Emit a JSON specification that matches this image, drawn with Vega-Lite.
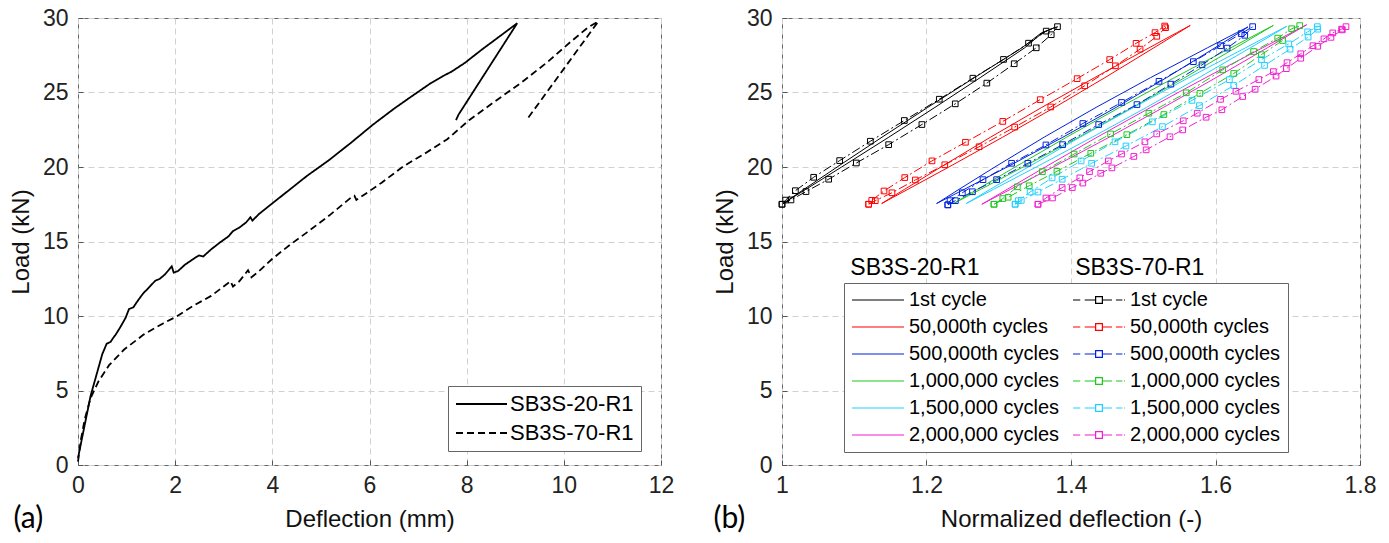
{
  "$schema": "https://vega.github.io/schema/vega-lite/v6.json",
  "padding": {"left": 8, "top": 6, "right": 0, "bottom": 0},
  "background": "white",
  "spacing": 37,
  "config": {
    "font": "Liberation Sans",
    "view": {"stroke": "#666", "strokeWidth": 1},
    "axis": {
      "labelFont": "Liberation Sans", "labelFontSize": 23, "labelColor": "#222",
      "titleFont": "Liberation Sans", "titleFontSize": 24, "titleFontWeight": "normal", "titleColor": "#111",
      "grid": true, "gridDash": [6, 4], "gridColor": "#d0d0d0", "gridWidth": 1,
      "domain": false, "ticks": true, "tickSize": -5, "tickColor": "#555", "tickWidth": 1,
      "labelFlush": false, "labelPadding": 14, "titlePadding": 10
    },
    "axisY": {"labelPadding": 15, "titlePadding": 9}
  },
  "datasets": {
    "a": [
      {"s":"SB3S-20-R1","i":0,"d":0,"L":0.47},{"s":"SB3S-20-R1","i":1,"d":0.13,"L":2.56},{"s":"SB3S-20-R1","i":2,"d":0.26,"L":4.65},{"s":"SB3S-20-R1","i":3,"d":0.4,"L":6.28},{"s":"SB3S-20-R1","i":4,"d":0.5,"L":7.44},{"s":"SB3S-20-R1","i":5,"d":0.59,"L":8.14},{"s":"SB3S-20-R1","i":6,"d":0.67,"L":8.26},{"s":"SB3S-20-R1","i":7,"d":0.74,"L":8.6},{"s":"SB3S-20-R1","i":8,"d":0.77,"L":8.72},{"s":"SB3S-20-R1","i":9,"d":0.86,"L":9.19},{"s":"SB3S-20-R1","i":10,"d":0.98,"L":9.88},{"s":"SB3S-20-R1","i":11,"d":1.05,"L":10.47},{"s":"SB3S-20-R1","i":12,"d":1.14,"L":10.58},{"s":"SB3S-20-R1","i":13,"d":1.21,"L":10.93},{"s":"SB3S-20-R1","i":14,"d":1.34,"L":11.51},{"s":"SB3S-20-R1","i":15,"d":1.48,"L":11.98},{"s":"SB3S-20-R1","i":16,"d":1.59,"L":12.37},{"s":"SB3S-20-R1","i":17,"d":1.68,"L":12.49},{"s":"SB3S-20-R1","i":18,"d":1.79,"L":12.79},{"s":"SB3S-20-R1","i":19,"d":1.88,"L":13.14},{"s":"SB3S-20-R1","i":20,"d":1.93,"L":13.33},{"s":"SB3S-20-R1","i":21,"d":1.97,"L":12.91},{"s":"SB3S-20-R1","i":22,"d":2.06,"L":13.02},{"s":"SB3S-20-R1","i":23,"d":2.2,"L":13.44},{"s":"SB3S-20-R1","i":24,"d":2.38,"L":13.84},{"s":"SB3S-20-R1","i":25,"d":2.49,"L":14.07},{"s":"SB3S-20-R1","i":26,"d":2.58,"L":14.0},{"s":"SB3S-20-R1","i":27,"d":2.74,"L":14.47},{"s":"SB3S-20-R1","i":28,"d":2.92,"L":14.93},{"s":"SB3S-20-R1","i":29,"d":3.1,"L":15.35},{"s":"SB3S-20-R1","i":30,"d":3.19,"L":15.7},{"s":"SB3S-20-R1","i":31,"d":3.32,"L":15.93},{"s":"SB3S-20-R1","i":32,"d":3.46,"L":16.28},{"s":"SB3S-20-R1","i":33,"d":3.55,"L":16.63},{"s":"SB3S-20-R1","i":34,"d":3.59,"L":16.4},{"s":"SB3S-20-R1","i":35,"d":3.73,"L":16.86},{"s":"SB3S-20-R1","i":36,"d":4.0,"L":17.56},{"s":"SB3S-20-R1","i":37,"d":4.36,"L":18.49},{"s":"SB3S-20-R1","i":38,"d":4.72,"L":19.42},{"s":"SB3S-20-R1","i":39,"d":5.17,"L":20.47},{"s":"SB3S-20-R1","i":40,"d":5.62,"L":21.63},{"s":"SB3S-20-R1","i":41,"d":6.07,"L":22.84},{"s":"SB3S-20-R1","i":42,"d":6.52,"L":23.95},{"s":"SB3S-20-R1","i":43,"d":6.88,"L":24.77},{"s":"SB3S-20-R1","i":44,"d":7.24,"L":25.58},{"s":"SB3S-20-R1","i":45,"d":7.51,"L":26.1},{"s":"SB3S-20-R1","i":46,"d":7.69,"L":26.4},{"s":"SB3S-20-R1","i":47,"d":7.96,"L":26.98},{"s":"SB3S-20-R1","i":48,"d":8.32,"L":27.9},{"s":"SB3S-20-R1","i":49,"d":8.68,"L":28.77},{"s":"SB3S-20-R1","i":50,"d":9.04,"L":29.65},{"s":"SB3S-20-R1","i":51,"d":7.83,"L":23.5},{"s":"SB3S-20-R1","i":52,"d":7.78,"L":23.14},
      {"s":"SB3S-70-R1","i":0,"d":0,"L":0.23},{"s":"SB3S-70-R1","i":1,"d":0.06,"L":1.7},{"s":"SB3S-70-R1","i":2,"d":0.14,"L":3.1},{"s":"SB3S-70-R1","i":3,"d":0.26,"L":4.5},{"s":"SB3S-70-R1","i":4,"d":0.42,"L":5.6},{"s":"SB3S-70-R1","i":5,"d":0.64,"L":6.7},{"s":"SB3S-70-R1","i":6,"d":0.95,"L":7.75},{"s":"SB3S-70-R1","i":7,"d":1.35,"L":8.75},{"s":"SB3S-70-R1","i":8,"d":1.75,"L":9.5},{"s":"SB3S-70-R1","i":9,"d":2.02,"L":9.95},{"s":"SB3S-70-R1","i":10,"d":2.38,"L":10.7},{"s":"SB3S-70-R1","i":11,"d":2.74,"L":11.35},{"s":"SB3S-70-R1","i":12,"d":3.14,"L":12.33},{"s":"SB3S-70-R1","i":13,"d":3.19,"L":11.98},{"s":"SB3S-70-R1","i":14,"d":3.32,"L":12.33},{"s":"SB3S-70-R1","i":15,"d":3.5,"L":13.07},{"s":"SB3S-70-R1","i":16,"d":3.57,"L":12.6},{"s":"SB3S-70-R1","i":17,"d":3.73,"L":13.02},{"s":"SB3S-70-R1","i":18,"d":4.0,"L":13.84},{"s":"SB3S-70-R1","i":19,"d":4.36,"L":14.77},{"s":"SB3S-70-R1","i":20,"d":4.72,"L":15.63},{"s":"SB3S-70-R1","i":21,"d":5.17,"L":16.74},{"s":"SB3S-70-R1","i":22,"d":5.62,"L":17.95},{"s":"SB3S-70-R1","i":23,"d":5.69,"L":18.07},{"s":"SB3S-70-R1","i":24,"d":5.73,"L":17.79},{"s":"SB3S-70-R1","i":25,"d":5.89,"L":18.14},{"s":"SB3S-70-R1","i":26,"d":6.25,"L":18.95},{"s":"SB3S-70-R1","i":27,"d":6.7,"L":20.05},{"s":"SB3S-70-R1","i":28,"d":7.15,"L":20.93},{"s":"SB3S-70-R1","i":29,"d":7.6,"L":21.86},{"s":"SB3S-70-R1","i":30,"d":8.05,"L":23.14},{"s":"SB3S-70-R1","i":31,"d":8.59,"L":24.42},{"s":"SB3S-70-R1","i":32,"d":9.14,"L":25.7},{"s":"SB3S-70-R1","i":33,"d":9.68,"L":27.09},{"s":"SB3S-70-R1","i":34,"d":10.13,"L":28.37},{"s":"SB3S-70-R1","i":35,"d":10.49,"L":29.35},{"s":"SB3S-70-R1","i":36,"d":10.71,"L":29.77},{"s":"SB3S-70-R1","i":37,"d":9.23,"L":23.14}
    ],
    "solid": [
      {"s":"20:1st cycle","i":0,"x":1.003,"y":17.6},{"s":"20:1st cycle","i":1,"x":1.033,"y":18.5},{"s":"20:1st cycle","i":2,"x":1.0825,"y":20},{"s":"20:1st cycle","i":3,"x":1.1478,"y":22},{"s":"20:1st cycle","i":4,"x":1.2117,"y":24},{"s":"20:1st cycle","i":5,"x":1.2744,"y":26},{"s":"20:1st cycle","i":6,"x":1.3359,"y":28},{"s":"20:1st cycle","i":7,"x":1.3603,"y":29},{"s":"20:1st cycle","i":8,"x":1.377,"y":29.35},{"s":"20:1st cycle","i":9,"x":1.3589,"y":29},{"s":"20:1st cycle","i":10,"x":1.3321,"y":28},{"s":"20:1st cycle","i":11,"x":1.2664,"y":26},{"s":"20:1st cycle","i":12,"x":1.2017,"y":24},{"s":"20:1st cycle","i":13,"x":1.1384,"y":22},{"s":"20:1st cycle","i":14,"x":1.0763,"y":20},{"s":"20:1st cycle","i":15,"x":1.0304,"y":18.5},{"s":"20:1st cycle","i":16,"x":1.003,"y":17.6},
      {"s":"20:50,000th cycles","i":0,"x":1.138,"y":17.55},{"s":"20:50,000th cycles","i":1,"x":1.1742,"y":18.5},{"s":"20:50,000th cycles","i":2,"x":1.231,"y":20},{"s":"20:50,000th cycles","i":3,"x":1.3054,"y":22},{"s":"20:50,000th cycles","i":4,"x":1.3774,"y":24},{"s":"20:50,000th cycles","i":5,"x":1.447,"y":26},{"s":"20:50,000th cycles","i":6,"x":1.5147,"y":28},{"s":"20:50,000th cycles","i":7,"x":1.5483,"y":29},{"s":"20:50,000th cycles","i":8,"x":1.565,"y":29.5},{"s":"20:50,000th cycles","i":9,"x":1.5459,"y":29},{"s":"20:50,000th cycles","i":10,"x":1.5081,"y":28},{"s":"20:50,000th cycles","i":11,"x":1.4328,"y":26},{"s":"20:50,000th cycles","i":12,"x":1.3596,"y":24},{"s":"20:50,000th cycles","i":13,"x":1.2886,"y":22},{"s":"20:50,000th cycles","i":14,"x":1.22,"y":20},{"s":"20:50,000th cycles","i":15,"x":1.1696,"y":18.5},{"s":"20:50,000th cycles","i":16,"x":1.138,"y":17.55},
      {"s":"20:500,000th cycles","i":0,"x":1.214,"y":17.55},{"s":"20:500,000th cycles","i":1,"x":1.2522,"y":18.5},{"s":"20:500,000th cycles","i":2,"x":1.3116,"y":20},{"s":"20:500,000th cycles","i":3,"x":1.3888,"y":22},{"s":"20:500,000th cycles","i":4,"x":1.4625,"y":24},{"s":"20:500,000th cycles","i":5,"x":1.5324,"y":26},{"s":"20:500,000th cycles","i":6,"x":1.5992,"y":28},{"s":"20:500,000th cycles","i":7,"x":1.6322,"y":29},{"s":"20:500,000th cycles","i":8,"x":1.645,"y":29.4},{"s":"20:500,000th cycles","i":9,"x":1.6286,"y":29},{"s":"20:500,000th cycles","i":10,"x":1.5888,"y":28},{"s":"20:500,000th cycles","i":11,"x":1.5102,"y":26},{"s":"20:500,000th cycles","i":12,"x":1.4347,"y":24},{"s":"20:500,000th cycles","i":13,"x":1.3628,"y":22},{"s":"20:500,000th cycles","i":14,"x":1.2946,"y":20},{"s":"20:500,000th cycles","i":15,"x":1.245,"y":18.5},{"s":"20:500,000th cycles","i":16,"x":1.214,"y":17.55},
      {"s":"20:1,000,000 cycles","i":0,"x":1.2375,"y":17.55},{"s":"20:1,000,000 cycles","i":1,"x":1.275,"y":18.5},{"s":"20:1,000,000 cycles","i":2,"x":1.3337,"y":20},{"s":"20:1,000,000 cycles","i":3,"x":1.4107,"y":22},{"s":"20:1,000,000 cycles","i":4,"x":1.4852,"y":24},{"s":"20:1,000,000 cycles","i":5,"x":1.5575,"y":26},{"s":"20:1,000,000 cycles","i":6,"x":1.6278,"y":28},{"s":"20:1,000,000 cycles","i":7,"x":1.6627,"y":29},{"s":"20:1,000,000 cycles","i":8,"x":1.68,"y":29.5},{"s":"20:1,000,000 cycles","i":9,"x":1.6603,"y":29},{"s":"20:1,000,000 cycles","i":10,"x":1.6212,"y":28},{"s":"20:1,000,000 cycles","i":11,"x":1.5433,"y":26},{"s":"20:1,000,000 cycles","i":12,"x":1.4674,"y":24},{"s":"20:1,000,000 cycles","i":13,"x":1.3939,"y":22},{"s":"20:1,000,000 cycles","i":14,"x":1.3227,"y":20},{"s":"20:1,000,000 cycles","i":15,"x":1.2704,"y":18.5},{"s":"20:1,000,000 cycles","i":16,"x":1.2375,"y":17.55},
      {"s":"20:1,500,000 cycles","i":0,"x":1.255,"y":17.55},{"s":"20:1,500,000 cycles","i":1,"x":1.2927,"y":18.5},{"s":"20:1,500,000 cycles","i":2,"x":1.3519,"y":20},{"s":"20:1,500,000 cycles","i":3,"x":1.4294,"y":22},{"s":"20:1,500,000 cycles","i":4,"x":1.5045,"y":24},{"s":"20:1,500,000 cycles","i":5,"x":1.5773,"y":26},{"s":"20:1,500,000 cycles","i":6,"x":1.6481,"y":28},{"s":"20:1,500,000 cycles","i":7,"x":1.6833,"y":29},{"s":"20:1,500,000 cycles","i":8,"x":1.6985,"y":29.44},{"s":"20:1,500,000 cycles","i":9,"x":1.6809,"y":29},{"s":"20:1,500,000 cycles","i":10,"x":1.6415,"y":28},{"s":"20:1,500,000 cycles","i":11,"x":1.5631,"y":26},{"s":"20:1,500,000 cycles","i":12,"x":1.4867,"y":24},{"s":"20:1,500,000 cycles","i":13,"x":1.4126,"y":22},{"s":"20:1,500,000 cycles","i":14,"x":1.3409,"y":20},{"s":"20:1,500,000 cycles","i":15,"x":1.2881,"y":18.5},{"s":"20:1,500,000 cycles","i":16,"x":1.255,"y":17.55},
      {"s":"20:2,000,000 cycles","i":0,"x":1.2766,"y":17.5},{"s":"20:2,000,000 cycles","i":1,"x":1.3162,"y":18.5},{"s":"20:2,000,000 cycles","i":2,"x":1.3754,"y":20},{"s":"20:2,000,000 cycles","i":3,"x":1.4529,"y":22},{"s":"20:2,000,000 cycles","i":4,"x":1.528,"y":24},{"s":"20:2,000,000 cycles","i":5,"x":1.6008,"y":26},{"s":"20:2,000,000 cycles","i":6,"x":1.6717,"y":28},{"s":"20:2,000,000 cycles","i":7,"x":1.7069,"y":29},{"s":"20:2,000,000 cycles","i":8,"x":1.7262,"y":29.55},{"s":"20:2,000,000 cycles","i":9,"x":1.7045,"y":29},{"s":"20:2,000,000 cycles","i":10,"x":1.6651,"y":28},{"s":"20:2,000,000 cycles","i":11,"x":1.5866,"y":26},{"s":"20:2,000,000 cycles","i":12,"x":1.5102,"y":24},{"s":"20:2,000,000 cycles","i":13,"x":1.4361,"y":22},{"s":"20:2,000,000 cycles","i":14,"x":1.3644,"y":20},{"s":"20:2,000,000 cycles","i":15,"x":1.3116,"y":18.5},{"s":"20:2,000,000 cycles","i":16,"x":1.2766,"y":17.5}
    ],
    "dashed": [
      {"s":"70:1st cycle","i":0,"x":1.0,"y":17.5},{"s":"70:1st cycle","i":1,"x":1.0124,"y":17.79},{"s":"70:1st cycle","i":2,"x":1.0332,"y":18.35},{"s":"70:1st cycle","i":3,"x":1.0646,"y":19.18},{"s":"70:1st cycle","i":4,"x":1.1029,"y":20.27},{"s":"70:1st cycle","i":5,"x":1.1476,"y":21.5},{"s":"70:1st cycle","i":6,"x":1.1936,"y":22.85},{"s":"70:1st cycle","i":7,"x":1.2398,"y":24.24},{"s":"70:1st cycle","i":8,"x":1.2835,"y":25.63},{"s":"70:1st cycle","i":9,"x":1.3214,"y":26.93},{"s":"70:1st cycle","i":10,"x":1.3519,"y":28.0},{"s":"70:1st cycle","i":11,"x":1.3726,"y":28.88},{"s":"70:1st cycle","i":12,"x":1.3813,"y":29.42},{"s":"70:1st cycle","i":13,"x":1.3657,"y":29.12},{"s":"70:1st cycle","i":14,"x":1.3412,"y":28.31},{"s":"70:1st cycle","i":15,"x":1.3066,"y":27.22},{"s":"70:1st cycle","i":16,"x":1.2642,"y":25.96},{"s":"70:1st cycle","i":17,"x":1.2177,"y":24.55},{"s":"70:1st cycle","i":18,"x":1.1693,"y":23.12},{"s":"70:1st cycle","i":19,"x":1.1223,"y":21.73},{"s":"70:1st cycle","i":20,"x":1.0798,"y":20.43},{"s":"70:1st cycle","i":21,"x":1.0438,"y":19.31},{"s":"70:1st cycle","i":22,"x":1.0185,"y":18.41},{"s":"70:1st cycle","i":23,"x":1.005,"y":17.78},{"s":"70:1st cycle","i":24,"x":1.0,"y":17.5},
      {"s":"70:50,000th cycles","i":0,"x":1.1199,"y":17.5},{"s":"70:50,000th cycles","i":1,"x":1.1291,"y":17.74},{"s":"70:50,000th cycles","i":2,"x":1.1522,"y":18.27},{"s":"70:50,000th cycles","i":3,"x":1.1845,"y":19.13},{"s":"70:50,000th cycles","i":4,"x":1.2253,"y":20.15},{"s":"70:50,000th cycles","i":5,"x":1.2728,"y":21.36},{"s":"70:50,000th cycles","i":6,"x":1.3221,"y":22.68},{"s":"70:50,000th cycles","i":7,"x":1.372,"y":24.03},{"s":"70:50,000th cycles","i":8,"x":1.4189,"y":25.45},{"s":"70:50,000th cycles","i":9,"x":1.4615,"y":26.79},{"s":"70:50,000th cycles","i":10,"x":1.4956,"y":27.91},{"s":"70:50,000th cycles","i":11,"x":1.5187,"y":28.77},{"s":"70:50,000th cycles","i":12,"x":1.5309,"y":29.35},{"s":"70:50,000th cycles","i":13,"x":1.5297,"y":29.46},{"s":"70:50,000th cycles","i":14,"x":1.5163,"y":29.02},{"s":"70:50,000th cycles","i":15,"x":1.4901,"y":28.3},{"s":"70:50,000th cycles","i":16,"x":1.4536,"y":27.21},{"s":"70:50,000th cycles","i":17,"x":1.4085,"y":25.93},{"s":"70:50,000th cycles","i":18,"x":1.3574,"y":24.52},{"s":"70:50,000th cycles","i":19,"x":1.3056,"y":23.06},{"s":"70:50,000th cycles","i":20,"x":1.2539,"y":21.66},{"s":"70:50,000th cycles","i":21,"x":1.2076,"y":20.41},{"s":"70:50,000th cycles","i":22,"x":1.1699,"y":19.29},{"s":"70:50,000th cycles","i":23,"x":1.1412,"y":18.39},{"s":"70:50,000th cycles","i":24,"x":1.1242,"y":17.76},{"s":"70:50,000th cycles","i":25,"x":1.1199,"y":17.5},
      {"s":"70:500,000th cycles","i":0,"x":1.2295,"y":17.46},{"s":"70:500,000th cycles","i":1,"x":1.2399,"y":17.74},{"s":"70:500,000th cycles","i":2,"x":1.2636,"y":18.34},{"s":"70:500,000th cycles","i":3,"x":1.2971,"y":19.15},{"s":"70:500,000th cycles","i":4,"x":1.3403,"y":20.25},{"s":"70:500,000th cycles","i":5,"x":1.3884,"y":21.5},{"s":"70:500,000th cycles","i":6,"x":1.4383,"y":22.85},{"s":"70:500,000th cycles","i":7,"x":1.4913,"y":24.19},{"s":"70:500,000th cycles","i":8,"x":1.5382,"y":25.56},{"s":"70:500,000th cycles","i":9,"x":1.5814,"y":26.86},{"s":"70:500,000th cycles","i":10,"x":1.6161,"y":27.98},{"s":"70:500,000th cycles","i":11,"x":1.6405,"y":28.84},{"s":"70:500,000th cycles","i":12,"x":1.6514,"y":29.42},{"s":"70:500,000th cycles","i":13,"x":1.6356,"y":28.95},{"s":"70:500,000th cycles","i":14,"x":1.607,"y":28.14},{"s":"70:500,000th cycles","i":15,"x":1.5693,"y":27.07},{"s":"70:500,000th cycles","i":16,"x":1.5218,"y":25.75},{"s":"70:500,000th cycles","i":17,"x":1.47,"y":24.33},{"s":"70:500,000th cycles","i":18,"x":1.4164,"y":22.92},{"s":"70:500,000th cycles","i":19,"x":1.3653,"y":21.48},{"s":"70:500,000th cycles","i":20,"x":1.3178,"y":20.25},{"s":"70:500,000th cycles","i":21,"x":1.2782,"y":19.15},{"s":"70:500,000th cycles","i":22,"x":1.2496,"y":18.27},{"s":"70:500,000th cycles","i":23,"x":1.2326,"y":17.74},{"s":"70:500,000th cycles","i":24,"x":1.2295,"y":17.46},
      {"s":"70:1,000,000 cycles","i":0,"x":1.2934,"y":17.5},{"s":"70:1,000,000 cycles","i":1,"x":1.313,"y":17.97},{"s":"70:1,000,000 cycles","i":2,"x":1.3422,"y":18.74},{"s":"70:1,000,000 cycles","i":3,"x":1.3805,"y":19.71},{"s":"70:1,000,000 cycles","i":4,"x":1.4274,"y":20.92},{"s":"70:1,000,000 cycles","i":5,"x":1.4773,"y":22.17},{"s":"70:1,000,000 cycles","i":6,"x":1.5285,"y":23.52},{"s":"70:1,000,000 cycles","i":7,"x":1.5784,"y":24.94},{"s":"70:1,000,000 cycles","i":8,"x":1.6253,"y":26.28},{"s":"70:1,000,000 cycles","i":9,"x":1.6636,"y":27.54},{"s":"70:1,000,000 cycles","i":10,"x":1.6928,"y":28.49},{"s":"70:1,000,000 cycles","i":11,"x":1.7166,"y":29.49},{"s":"70:1,000,000 cycles","i":12,"x":1.7054,"y":29.28},{"s":"70:1,000,000 cycles","i":13,"x":1.6861,"y":28.65},{"s":"70:1,000,000 cycles","i":14,"x":1.6527,"y":27.75},{"s":"70:1,000,000 cycles","i":15,"x":1.61,"y":26.52},{"s":"70:1,000,000 cycles","i":16,"x":1.5595,"y":24.98},{"s":"70:1,000,000 cycles","i":17,"x":1.5078,"y":23.61},{"s":"70:1,000,000 cycles","i":18,"x":1.4548,"y":22.22},{"s":"70:1,000,000 cycles","i":19,"x":1.4043,"y":20.87},{"s":"70:1,000,000 cycles","i":20,"x":1.3604,"y":19.69},{"s":"70:1,000,000 cycles","i":21,"x":1.3257,"y":18.67},{"s":"70:1,000,000 cycles","i":22,"x":1.3056,"y":17.88},{"s":"70:1,000,000 cycles","i":23,"x":1.2934,"y":17.5},
      {"s":"70:1,500,000 cycles","i":0,"x":1.3227,"y":17.5},{"s":"70:1,500,000 cycles","i":1,"x":1.3312,"y":17.76},{"s":"70:1,500,000 cycles","i":2,"x":1.3543,"y":18.32},{"s":"70:1,500,000 cycles","i":3,"x":1.3878,"y":19.18},{"s":"70:1,500,000 cycles","i":4,"x":1.4286,"y":20.25},{"s":"70:1,500,000 cycles","i":5,"x":1.4761,"y":21.41},{"s":"70:1,500,000 cycles","i":6,"x":1.5266,"y":22.71},{"s":"70:1,500,000 cycles","i":7,"x":1.5778,"y":24.12},{"s":"70:1,500,000 cycles","i":8,"x":1.6253,"y":25.47},{"s":"70:1,500,000 cycles","i":9,"x":1.6679,"y":26.82},{"s":"70:1,500,000 cycles","i":10,"x":1.7032,"y":27.91},{"s":"70:1,500,000 cycles","i":11,"x":1.7282,"y":28.72},{"s":"70:1,500,000 cycles","i":12,"x":1.7415,"y":29.25},{"s":"70:1,500,000 cycles","i":13,"x":1.7409,"y":29.42},{"s":"70:1,500,000 cycles","i":14,"x":1.7275,"y":29.07},{"s":"70:1,500,000 cycles","i":15,"x":1.7014,"y":28.26},{"s":"70:1,500,000 cycles","i":16,"x":1.6636,"y":27.21},{"s":"70:1,500,000 cycles","i":17,"x":1.6192,"y":25.86},{"s":"70:1,500,000 cycles","i":18,"x":1.5674,"y":24.47},{"s":"70:1,500,000 cycles","i":19,"x":1.5126,"y":23.03},{"s":"70:1,500,000 cycles","i":20,"x":1.4609,"y":21.69},{"s":"70:1,500,000 cycles","i":21,"x":1.414,"y":20.41},{"s":"70:1,500,000 cycles","i":22,"x":1.3738,"y":19.27},{"s":"70:1,500,000 cycles","i":23,"x":1.3434,"y":18.32},{"s":"70:1,500,000 cycles","i":24,"x":1.327,"y":17.74},{"s":"70:1,500,000 cycles","i":25,"x":1.3227,"y":17.5},
      {"s":"70:2,000,000 cycles","i":0,"x":1.3543,"y":17.5},{"s":"70:2,000,000 cycles","i":1,"x":1.3744,"y":17.92},{"s":"70:2,000,000 cycles","i":2,"x":1.4018,"y":18.62},{"s":"70:2,000,000 cycles","i":3,"x":1.4164,"y":18.92},{"s":"70:2,000,000 cycles","i":4,"x":1.4412,"y":19.58},{"s":"70:2,000,000 cycles","i":5,"x":1.4566,"y":19.94},{"s":"70:2,000,000 cycles","i":6,"x":1.487,"y":20.71},{"s":"70:2,000,000 cycles","i":7,"x":1.504,"y":21.15},{"s":"70:2,000,000 cycles","i":8,"x":1.537,"y":22.03},{"s":"70:2,000,000 cycles","i":9,"x":1.5546,"y":22.49},{"s":"70:2,000,000 cycles","i":10,"x":1.587,"y":23.34},{"s":"70:2,000,000 cycles","i":11,"x":1.6088,"y":23.84},{"s":"70:2,000,000 cycles","i":12,"x":1.6376,"y":24.73},{"s":"70:2,000,000 cycles","i":13,"x":1.6548,"y":25.22},{"s":"70:2,000,000 cycles","i":14,"x":1.6838,"y":26.1},{"s":"70:2,000,000 cycles","i":15,"x":1.698,"y":26.6},{"s":"70:2,000,000 cycles","i":16,"x":1.718,"y":27.3},{"s":"70:2,000,000 cycles","i":17,"x":1.7415,"y":28.1},{"s":"70:2,000,000 cycles","i":18,"x":1.7598,"y":28.7},{"s":"70:2,000,000 cycles","i":19,"x":1.7756,"y":29.2},{"s":"70:2,000,000 cycles","i":20,"x":1.7806,"y":29.42},{"s":"70:2,000,000 cycles","i":21,"x":1.7745,"y":29.25},{"s":"70:2,000,000 cycles","i":22,"x":1.7623,"y":29.0},{"s":"70:2,000,000 cycles","i":23,"x":1.7501,"y":28.6},{"s":"70:2,000,000 cycles","i":24,"x":1.7349,"y":28.14},{"s":"70:2,000,000 cycles","i":25,"x":1.718,"y":27.6},{"s":"70:2,000,000 cycles","i":26,"x":1.699,"y":27.0},{"s":"70:2,000,000 cycles","i":27,"x":1.6801,"y":26.4},{"s":"70:2,000,000 cycles","i":28,"x":1.66,"y":25.87},{"s":"70:2,000,000 cycles","i":29,"x":1.6283,"y":25.08},{"s":"70:2,000,000 cycles","i":30,"x":1.607,"y":24.54},{"s":"70:2,000,000 cycles","i":31,"x":1.5747,"y":23.61},{"s":"70:2,000,000 cycles","i":32,"x":1.5553,"y":23.1},{"s":"70:2,000,000 cycles","i":33,"x":1.5187,"y":22.22},{"s":"70:2,000,000 cycles","i":34,"x":1.5023,"y":21.69},{"s":"70:2,000,000 cycles","i":35,"x":1.47,"y":20.87},{"s":"70:2,000,000 cycles","i":36,"x":1.4517,"y":20.41},{"s":"70:2,000,000 cycles","i":37,"x":1.4256,"y":19.69},{"s":"70:2,000,000 cycles","i":38,"x":1.4122,"y":19.27},{"s":"70:2,000,000 cycles","i":39,"x":1.3878,"y":18.62},{"s":"70:2,000,000 cycles","i":40,"x":1.3653,"y":17.92},{"s":"70:2,000,000 cycles","i":41,"x":1.3543,"y":17.5}
    ],
    "keys": [
      {"s":"20:1st cycle"},{"s":"70:1st cycle"},{"s":"20:50,000th cycles"},{"s":"70:50,000th cycles"},{"s":"20:500,000th cycles"},{"s":"70:500,000th cycles"},{"s":"20:1,000,000 cycles"},{"s":"70:1,000,000 cycles"},{"s":"20:1,500,000 cycles"},{"s":"70:1,500,000 cycles"},{"s":"20:2,000,000 cycles"},{"s":"70:2,000,000 cycles"}
    ]
  },
  "hconcat": [
    {
      "width": 583, "height": 447,
      "title": {"text": "(a)", "orient": "bottom", "anchor": "start", "frame": "bounds", "offset": -27, "dx": 4, "font": "Lato", "fontSize": 30, "fontWeight": "normal", "color": "#000"},
      "data": {"name": "a"},
      "mark": {"type": "line", "color": "black", "strokeWidth": 1.8},
      "encoding": {
        "x": {"field": "d", "type": "quantitative", "scale": {"domain": [0, 12], "nice": false}, "axis": {"title": "Deflection (mm)", "values": [0, 2, 4, 6, 8, 10, 12]}},
        "y": {"field": "L", "type": "quantitative", "scale": {"domain": [0, 30], "nice": false}, "axis": {"title": "Load (kN)", "values": [0, 5, 10, 15, 20, 25, 30]}},
        "strokeDash": {"field": "s", "type": "nominal", "scale": {"domain": ["SB3S-20-R1", "SB3S-70-R1"], "range": [[1, 0], [7, 4]]},
          "legend": {"orient": "none", "legendX": 370, "legendY": 368, "title": null, "symbolType": "stroke", "symbolSize": 2601, "symbolStrokeWidth": 1.8, "symbolStrokeColor": "black", "clipHeight": 22, "rowPadding": 7, "padding": 7, "labelOffset": 2, "labelFontSize": 22, "labelFont": "Liberation Sans", "labelColor": "#000", "strokeColor": "#666", "fillColor": "white"}},
        "order": {"field": "i", "type": "quantitative"}
      }
    },
    {
      "width": 578, "height": 447,
      "title": {"text": "(b)", "orient": "bottom", "anchor": "start", "frame": "bounds", "offset": -27, "dx": 0, "font": "Lato", "fontSize": 30, "fontWeight": "normal", "color": "#000"},
      "layer": [
        {
          "data": {"name": "solid"},
          "mark": {"type": "line", "strokeWidth": 1},
          "encoding": {
            "x": {"field": "x", "type": "quantitative", "scale": {"domain": [1, 1.8], "nice": false}, "axis": {"title": "Normalized deflection (-)", "values": [1, 1.2, 1.4, 1.6, 1.8], "format": "~g"}},
            "y": {"field": "y", "type": "quantitative", "scale": {"domain": [0, 30], "nice": false}, "axis": {"title": "Load (kN)", "values": [0, 5, 10, 15, 20, 25, 30]}},
            "color": {"field": "s", "type": "nominal", "legend": null,
              "scale": {"domain": ["20:1st cycle","20:50,000th cycles","20:500,000th cycles","20:1,000,000 cycles","20:1,500,000 cycles","20:2,000,000 cycles","70:1st cycle","70:50,000th cycles","70:500,000th cycles","70:1,000,000 cycles","70:1,500,000 cycles","70:2,000,000 cycles"],
                "range": ["#000000","#ff0000","#0022dd","#1fc71f","#22d0ff","#f020d0","#000000","#ff0000","#0022dd","#1fc71f","#22d0ff","#f020d0"]}},
            "order": {"field": "i", "type": "quantitative"}
          }
        },
        {
          "data": {"name": "dashed"},
          "mark": {"type": "line", "strokeWidth": 1, "strokeDash": [9, 3, 2, 3]},
          "encoding": {
            "x": {"field": "x", "type": "quantitative", "title": "Normalized deflection (-)"},
            "y": {"field": "y", "type": "quantitative", "title": "Load (kN)"},
            "color": {"field": "s", "type": "nominal", "legend": null},
            "order": {"field": "i", "type": "quantitative"}
          }
        },
        {
          "data": {"name": "dashed"},
          "mark": {"type": "point", "shape": "square", "size": 32, "filled": false, "strokeWidth": 1, "opacity": 1},
          "encoding": {
            "x": {"field": "x", "type": "quantitative", "title": "Normalized deflection (-)"},
            "y": {"field": "y", "type": "quantitative", "title": "Load (kN)"},
            "color": {"field": "s", "type": "nominal", "legend": null}
          }
        },
        {
          "data": {"name": "keys"},
          "mark": {"type": "point", "filled": false, "opacity": 0},
          "encoding": {
            "stroke": {"field": "s", "type": "nominal",
              "scale": {"domain": ["20:1st cycle","70:1st cycle","20:50,000th cycles","70:50,000th cycles","20:500,000th cycles","70:500,000th cycles","20:1,000,000 cycles","70:1,000,000 cycles","20:1,500,000 cycles","70:1,500,000 cycles","20:2,000,000 cycles","70:2,000,000 cycles"],
                "range": ["#000000","#000000","#ff0000","#ff0000","#0022dd","#0022dd","#1fc71f","#1fc71f","#22d0ff","#22d0ff","#f020d0","#f020d0"]},
              "legend": {"orient": "none", "legendX": 766, "legendY": 265, "direction": "horizontal", "columns": 2, "title": null, "labelExpr": "slice(datum.label, 3)", "symbolSize": 2704, "symbolStrokeWidth": 1.2, "clipHeight": 20, "rowPadding": 7, "columnPadding": 12, "labelOffset": 4, "padding": 7, "strokeColor": "#666", "fillColor": "white", "labelFontSize": 20, "labelFont": "Liberation Sans", "labelColor": "#000", "symbolOpacity": 1, "labelLimit": 300}},
            "shape": {"field": "s", "type": "nominal",
              "scale": {"domain": ["20:1st cycle","70:1st cycle","20:50,000th cycles","70:50,000th cycles","20:500,000th cycles","70:500,000th cycles","20:1,000,000 cycles","70:1,000,000 cycles","20:1,500,000 cycles","70:1,500,000 cycles","20:2,000,000 cycles","70:2,000,000 cycles"],
                "range": ["M-1,0H1","M-1,0H-0.72M-0.55,0H-0.13M-0.13,-0.13H0.13V0.13H-0.13ZM0.13,0H0.5M0.65,0H0.9M0.96,0H1","M-1,0H1","M-1,0H-0.72M-0.55,0H-0.13M-0.13,-0.13H0.13V0.13H-0.13ZM0.13,0H0.5M0.65,0H0.9M0.96,0H1","M-1,0H1","M-1,0H-0.72M-0.55,0H-0.13M-0.13,-0.13H0.13V0.13H-0.13ZM0.13,0H0.5M0.65,0H0.9M0.96,0H1","M-1,0H1","M-1,0H-0.72M-0.55,0H-0.13M-0.13,-0.13H0.13V0.13H-0.13ZM0.13,0H0.5M0.65,0H0.9M0.96,0H1","M-1,0H1","M-1,0H-0.72M-0.55,0H-0.13M-0.13,-0.13H0.13V0.13H-0.13ZM0.13,0H0.5M0.65,0H0.9M0.96,0H1","M-1,0H1","M-1,0H-0.72M-0.55,0H-0.13M-0.13,-0.13H0.13V0.13H-0.13ZM0.13,0H0.5M0.65,0H0.9M0.96,0H1"]},
              "legend": {"orient": "none", "legendX": 766, "legendY": 265, "direction": "horizontal", "columns": 2, "title": null, "labelExpr": "slice(datum.label, 3)", "symbolSize": 2704, "symbolStrokeWidth": 1.2, "clipHeight": 20, "rowPadding": 7, "columnPadding": 12, "labelOffset": 4, "padding": 7, "strokeColor": "#666", "fillColor": "white", "labelFontSize": 20, "labelFont": "Liberation Sans", "labelColor": "#000", "symbolOpacity": 1, "labelLimit": 300}}
          }
        },
        {
          "data": {"values": [{}]},
          "mark": {"type": "text", "align": "left", "baseline": "middle", "font": "Liberation Sans", "fontSize": 23, "color": "#000"},
          "encoding": {
            "x": {"datum": 1.0946, "type": "quantitative"},
            "y": {"datum": 13.19, "type": "quantitative"},
            "text": {"value": "SB3S-20-R1"}
          }
        },
        {
          "data": {"values": [{}]},
          "mark": {"type": "text", "align": "left", "baseline": "middle", "font": "Liberation Sans", "fontSize": 23, "color": "#000"},
          "encoding": {
            "x": {"datum": 1.4058, "type": "quantitative"},
            "y": {"datum": 13.19, "type": "quantitative"},
            "text": {"value": "SB3S-70-R1"}
          }
        }
      ]
    }
  ]
}
